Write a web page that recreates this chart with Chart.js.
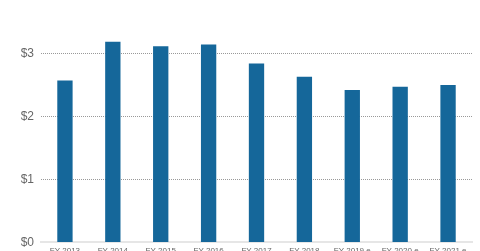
<!DOCTYPE html>
<html>
<head>
<meta charset="utf-8">
<script src="https://cdn.jsdelivr.net/npm/chart.js@4/dist/chart.umd.min.js"></script>
<style>
html,body{margin:0;padding:0;background:#fff;overflow:hidden;}
#wrap{position:absolute;left:0;top:0;width:480px;height:267px;}
</style>
</head>
<body>
<div id="wrap"><canvas id="c"></canvas></div>
<script>
const categories = ["FY 2013","FY 2014","FY 2015","FY 2016","FY 2017","FY 2018","FY 2019 e","FY 2020 e","FY 2021 e"];
const values = [2.57, 3.185, 3.115, 3.14, 2.84, 2.63, 2.42, 2.47, 2.50];
const yTicks = [0, 1, 2, 3];

new Chart(document.getElementById('c'), {
  type: 'bar',
  data: {
    labels: categories,
    datasets: [{
      data: values,
      backgroundColor: '#15679a',
      borderWidth: 0,
      categoryPercentage: 1,
      barPercentage: 0.32
    }]
  },
  options: {
    responsive: true,
    maintainAspectRatio: false,
    animation: false,
    devicePixelRatio: 1,
    layout: { padding: { top: 3, right: 8, bottom: 7, left: 0 } },
    plugins: { legend: { display: false }, tooltip: { enabled: false } },
    scales: {
      x: {
        grid: { display: false, drawTicks: false },
        border: { display: true, color: '#e6e6e6', width: 2 },
        ticks: { color: '#666', font: { family: 'Liberation Sans, Arial, sans-serif', size: 8 }, padding: 4, maxRotation: 0, autoSkip: false }
      },
      y: {
        min: 0,
        max: 3.8,
        afterBuildTicks: axis => { axis.ticks = yTicks.map(v => ({ value: v })); },
        afterFit: s => { s.width = 41; s.paddingTop = 0; s.paddingBottom = 0; },
        grid: {
          drawTicks: false,
          color: ctx => (ctx.tick && ctx.tick.value === 0) ? 'rgba(0,0,0,0)' : '#999',
          lineWidth: 1
        },
        border: { display: false, dash: [1, 1] },
        ticks: {
          color: '#666',
          padding: 7,
          font: { family: 'Liberation Sans, Arial, sans-serif', size: 12 },
          callback: v => '$' + v
        }
      }
    }
  }
});
</script>
</body>
</html>
